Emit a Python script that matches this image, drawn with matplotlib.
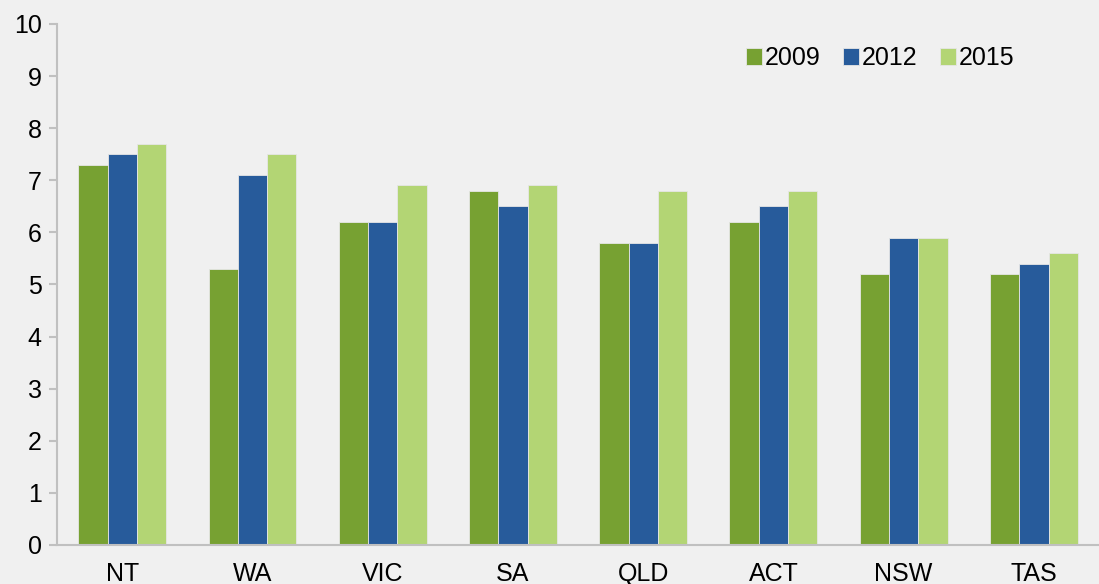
import numpy as np
import matplotlib.pyplot as plt

plt.rcParams["font.family"] = ["Liberation Sans", "DejaVu Sans"]

states = ["NT", "WA", "VIC", "SA", "QLD", "ACT", "NSW", "TAS"]
years = ["2009", "2012", "2015"]
v2009 = [7.3, 5.3, 6.2, 6.8, 5.8, 6.2, 5.2, 5.2]
v2012 = [7.5, 7.1, 6.2, 6.5, 5.8, 6.5, 5.9, 5.4]
v2015 = [7.7, 7.5, 6.9, 6.9, 6.8, 6.8, 5.9, 5.6]
colors = ["#77a132", "#275b9b", "#b3d574"]

bg = "#f0f0f0"
fig = plt.figure(figsize=(10.99, 5.84), dpi=100, facecolor=bg)
ax = fig.add_axes([0.052, 0.067, 0.948, 0.892], facecolor=bg)

x = np.arange(len(states))
w = 0.225
for i, (vals, lab) in enumerate(zip([v2009, v2012, v2015], years)):
    ax.bar(x + (i - 1) * w, vals, w, color=colors[i], label=lab,
           edgecolor="#e6e6e6", linewidth=0.6)

ax.set_xlim(-0.5, len(states) - 0.5)
ax.set_ylim(0, 10)
ax.set_yticks(range(0, 11))
ax.set_xticks(x)
ax.set_xticklabels(states)

for s in ["top", "right"]:
    ax.spines[s].set_visible(False)
for s in ["left", "bottom"]:
    ax.spines[s].set_color("#c0c0c0")
    ax.spines[s].set_linewidth(1.5)
ax.tick_params(axis="y", length=6, color="#c0c0c0", width=1.5, labelsize=18, pad=5)
ax.tick_params(axis="x", length=0, labelsize=18, pad=12)

ax.legend(loc="upper right", bbox_to_anchor=(0.94, 1.0), ncol=3, frameon=False,
          fontsize=18, handlelength=0.65, handleheight=0.65, handletextpad=0.1,
          columnspacing=0.9)

fig.savefig("out.png", dpi=100, facecolor=bg)
